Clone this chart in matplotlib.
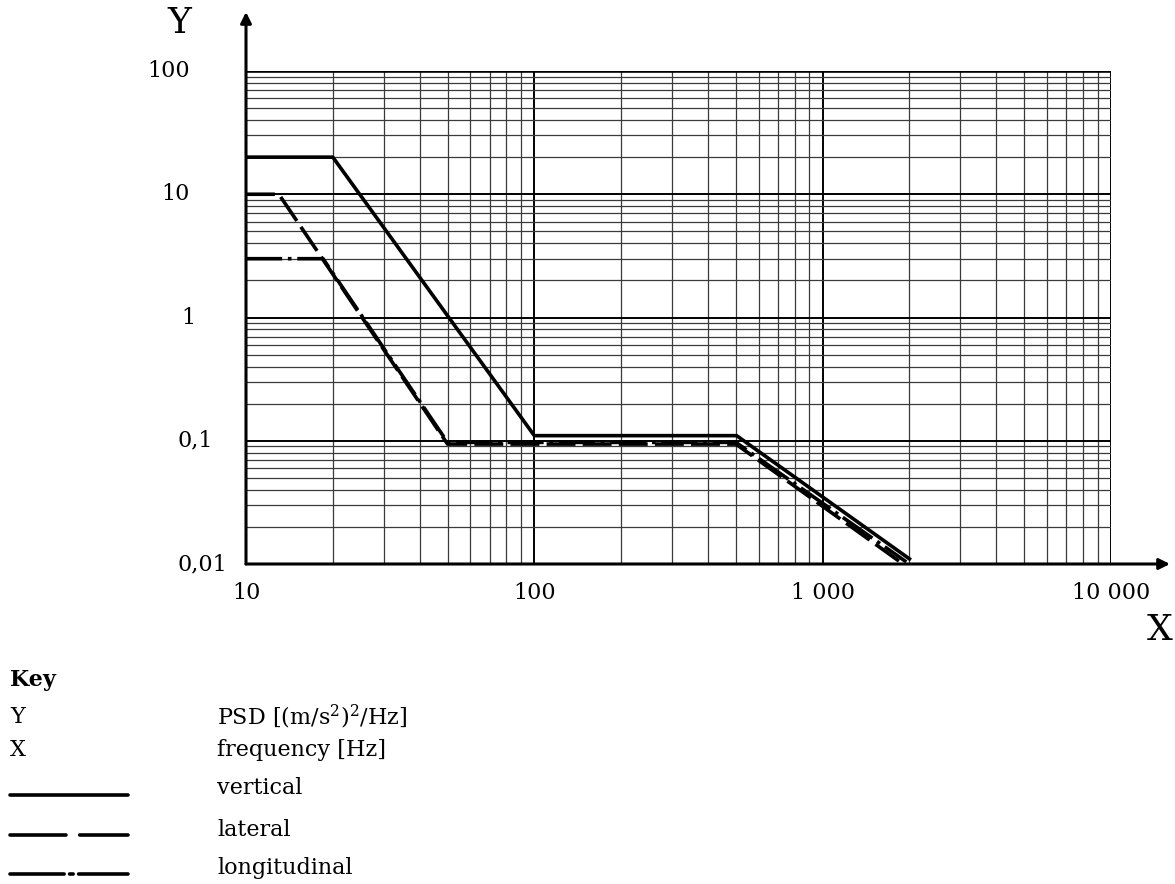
import matplotlib
matplotlib.use("Agg")
import matplotlib.pyplot as plt
from matplotlib.lines import Line2D
from matplotlib.ticker import FixedLocator, NullFormatter
import matplotlib.transforms as mtransforms


# PSD profiles, breakpoints in Hz and (m/s^2)^2/Hz
vertical_freq = [10, 20, 100, 503, 2000]
vertical_psd = [20, 20, 0.11, 0.11, 0.011]

lateral_freq = [10, 13, 50, 500, 1900]
lateral_psd = [10, 10, 0.094, 0.094, 0.01]

longitudinal_freq = [10, 18.5, 50, 500, 1950]
longitudinal_psd = [3, 3, 0.097, 0.097, 0.0104]

x_ticks = [10, 100, 1000, 10000]
x_tick_labels = ["10", "100", "1 000", "10 000"]
y_ticks = [0.01, 0.1, 1, 10, 100]
y_tick_labels = ["0,01", "0,1", "1", "10", "100"]

key_symbols = ["Y", "X"]
key_texts = ["PSD [(m/s$^2$)$^2$/Hz]", "frequency [Hz]"]
series_names = ["vertical", "lateral", "longitudinal"]

W, H = 1175, 884
FONT = "DejaVu Serif"
LW = 2.6

plt.rcParams["font.family"] = FONT
plt.rcParams["mathtext.fontset"] = "dejavuserif"

fig = plt.figure(figsize=(W / 100, H / 100), dpi=100)
ax = fig.add_axes([246 / W, (H - 564) / H, (1111 - 246) / W, (564 - 71) / H])

ax.set_xscale("log")
ax.set_yscale("log")
ax.set_xlim(10, 10000)
ax.set_ylim(0.01, 100)

for s in ax.spines.values():
    s.set_visible(False)

# grid: decades heavier, 2..9 lighter
minor_x = [m * d for d in (10, 100, 1000) for m in range(2, 10)]
minor_y = [m * d for d in (0.01, 0.1, 1, 10) for m in range(2, 10)]
ax.xaxis.set_minor_locator(FixedLocator(minor_x))
ax.yaxis.set_minor_locator(FixedLocator(minor_y))
ax.xaxis.set_minor_formatter(NullFormatter())
ax.yaxis.set_minor_formatter(NullFormatter())
ax.grid(True, which="major", color="black", lw=1.4)
ax.grid(True, which="minor", color="#3a3a3a", lw=0.9)
ax.axhline(100, color="black", lw=2.6, zorder=3)

ax.set_xticks(x_ticks)
ax.set_xticklabels(x_tick_labels, fontsize=16)
ax.tick_params(axis="x", which="both", length=0, pad=13)
ax.set_yticks(y_ticks)
ax.set_yticklabels([])
ax.tick_params(axis="y", which="both", length=0)

# y labels sit at individual offsets left of the axis
label_right_px = [227, 213, 195, 190, 190]
for val, lab, rx in zip(y_ticks, y_tick_labels, label_right_px):
    tr = mtransforms.blended_transform_factory(fig.transFigure, ax.transData)
    ax.text(rx / W, val, lab, transform=tr, ha="right", va="center", fontsize=16)

# data lines
ax.plot(vertical_freq, vertical_psd, color="black", lw=LW, zorder=5)
ax.plot(lateral_freq, lateral_psd, color="black", lw=LW, dashes=(8, 2), zorder=5)
ax.plot(longitudinal_freq, longitudinal_psd, color="black", lw=LW,
        dashes=(10, 1.6, 1.0, 1.6), zorder=5)

# axis arrows
arrow = dict(arrowstyle="-|>", lw=2.2, color="black", mutation_scale=16,
             shrinkA=0, shrinkB=0)
ax.annotate("", xy=(0, (564 - 12) / 493), xytext=(0, 0), xycoords="axes fraction",
            arrowprops=arrow, annotation_clip=False)
ax.annotate("", xy=((1170 - 246) / 865, 0), xytext=(0, 0), xycoords="axes fraction",
            arrowprops=arrow, annotation_clip=False)

fig.text(179 / W, 1 - 23 / H, "Y", fontsize=26, ha="center", va="center")
fig.text(1160 / W, 1 - 630 / H, "X", fontsize=26, ha="center", va="center")

# key block
fig.text(10 / W, 1 - 680 / H, "Key", fontsize=16, fontweight="bold", va="center")
for sym, txt, y in zip(key_symbols, key_texts, [717, 750]):
    fig.text(10 / W, 1 - y / H, sym, fontsize=16, va="center")
    fig.text(217 / W, 1 - y / H, txt, fontsize=16, va="center")

key_styles = [None, (15.5, 3.8), (15, 1.5, 1.0, 1.5)]
for name, style, y_txt, y_ln in zip(series_names, key_styles, [788, 830, 868], [795, 835, 874]):
    ln = Line2D([10 / W, 128 / W], [1 - y_ln / H, 1 - y_ln / H], transform=fig.transFigure,
                color="black", lw=LW, solid_capstyle="round", dash_capstyle="round")
    if style is not None:
        ln.set_dashes(style)
    fig.add_artist(ln)
    fig.text(217 / W, 1 - y_txt / H, name, fontsize=16, va="center")

fig.savefig("out.png", dpi=100)
